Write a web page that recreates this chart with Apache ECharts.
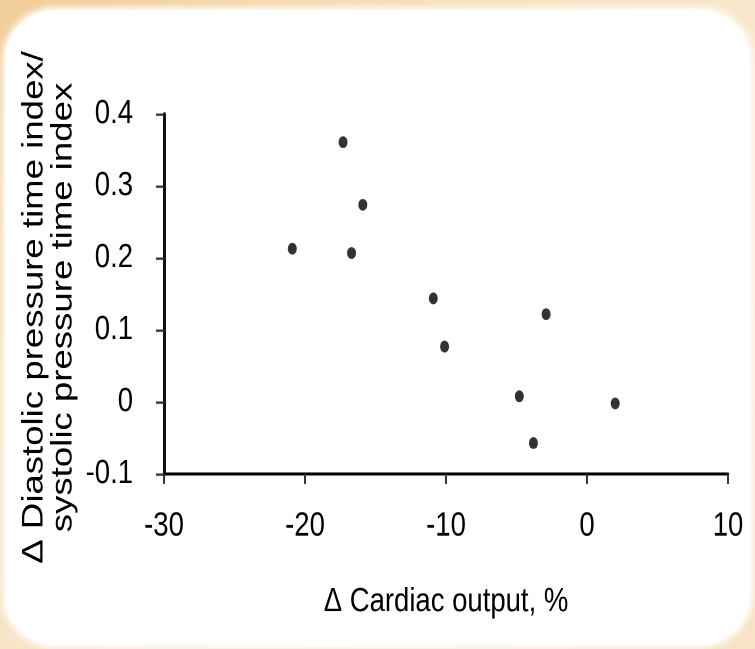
<!DOCTYPE html>
<html>
<head>
<meta charset="utf-8">
<script src="https://cdn.jsdelivr.net/npm/echarts@6/dist/echarts.min.js"></script>
<style>
  html, body { margin: 0; padding: 0; }
  body {
    width: 755px; height: 649px; overflow: hidden; position: relative;
    background: linear-gradient(135deg, #f1cd98 0%, #f7e2c0 35%, #fbecd6 70%, #f7e3c4 100%);
  }
  #panel {
    position: absolute; left: 5px; top: 10px; width: 745px; height: 635px;
    background: #ffffff; border-radius: 50px;
    box-shadow: 0 0 6px 3px rgba(255,255,255,0.9);
  }
  /* the chart is laid out in a shorter box and stretched vertically,
     which gives the tall, narrow lettering and the upright oval dots */
  #chart {
    position: absolute; left: 0; top: 0; width: 755px; height: 532px;
    transform: scaleY(1.22); transform-origin: 0 0;
  }
</style>
</head>
<body>
<div id="panel"></div>
<div id="chart"></div>
<script>
// Change in cardiac output (%) against change in DPTI/SPTI ratio
const cardiacOutputChange = [-17.3, -15.9, -20.9, -16.7, -10.9, -2.9, -10.1, -4.8, 2.0, -3.8];
const ratioChange         = [0.361, 0.274, 0.213, 0.207, 0.144, 0.122, 0.077, 0.008, -0.002, -0.057];

const xTicks = { min: -30, max: 10, step: 10 };
const yTicks = { min: -0.1, max: 0.4, step: 0.1 };

const xTitle = 'Δ Cardiac output, %';
const yTitleLines = ['Δ Diastolic pressure time index/', 'systolic pressure time index'];

const points = cardiacOutputChange.map((x, i) => [x, ratioChange[i]]);

const font = '"Liberation Sans", Arial, sans-serif';

const chart = echarts.init(document.getElementById('chart'), null, {
  renderer: 'canvas', devicePixelRatio: 2
});
chart.setOption({
  backgroundColor: 'transparent',
  animation: false,
  grid: { left: 164, right: 27, top: 93.5, bottom: 143.5 },
  xAxis: {
    type: 'value',
    min: xTicks.min, max: xTicks.max, interval: xTicks.step,
    splitLine: { show: false },
    axisLine: { show: true, onZero: false, lineStyle: { color: '#000', width: 2.5 } },
    axisTick: { show: true, inside: false, length: 8, lineStyle: { color: '#333', width: 2 } },
    axisLabel: {
      margin: 29, color: '#000', fontFamily: font, fontSize: 27.5,
      formatter: v => String(v)
    },
    name: xTitle,
    nameLocation: 'middle',
    nameGap: 91,
    nameTextStyle: { color: '#000', fontFamily: font, fontSize: 27.5 }
  },
  yAxis: {
    type: 'value',
    min: yTicks.min, max: yTicks.max, interval: yTicks.step,
    splitLine: { show: false },
    axisLine: { show: true, onZero: false, lineStyle: { color: '#111', width: 3 } },
    axisTick: { show: true, inside: false, length: 8, lineStyle: { color: '#333', width: 1.8 } },
    axisLabel: {
      margin: 31, color: '#000', fontFamily: font, fontSize: 27.5,
      formatter: v => String(Math.round(v * 10) / 10)
    }
  },
  graphic: yTitleLines.map((line, i) => ({
    type: 'text',
    x: 34 + i * 29,
    y: 252,
    rotation: Math.PI / 2,
    style: {
      text: line,
      font: '30px ' + font,
      fill: '#000',
      align: 'center',
      verticalAlign: 'middle'
    }
  })),
  series: [{
    type: 'scatter',
    data: points,
    symbol: 'circle',
    symbolSize: [9, 9.8],
    itemStyle: { color: '#000' }
  }]
});
</script>
</body>
</html>
